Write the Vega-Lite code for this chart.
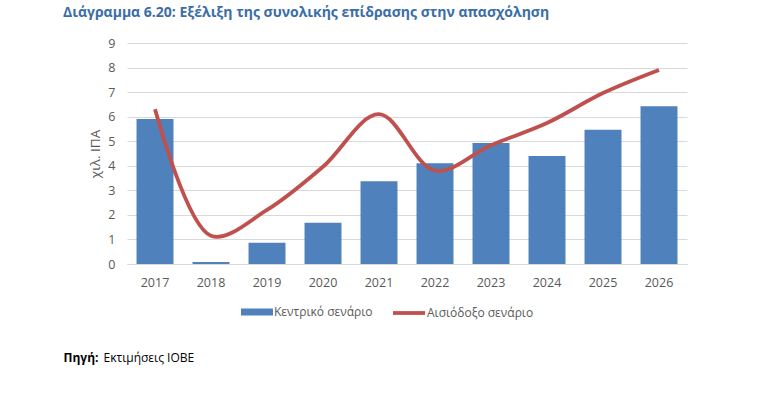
{
  "$schema": "https://vega.github.io/schema/vega-lite/v6.json",
  "autosize": "none",
  "width": 560,
  "height": 221,
  "padding": {"left": 127, "top": 43, "right": 82, "bottom": 129},
  "background": "white",
  "config": {
    "font": "Open Sans",
    "view": {"stroke": null}
  },
  "title": {
    "text": "Διάγραμμα 6.20: Εξέλιξη της συνολικής επίδρασης στην απασχόληση",
    "anchor": "start",
    "frame": "bounds",
    "offset": 17,
    "font": "Open Sans",
    "fontSize": 14,
    "fontWeight": "bold",
    "color": "#3B6DA6"
  },
  "data": {
    "values": [
      {"year": "2017", "central": 5.9, "optimistic": 6.3},
      {"year": "2018", "central": 0.08, "optimistic": 1.15},
      {"year": "2019", "central": 0.87, "optimistic": 2.2},
      {"year": "2020", "central": 1.68, "optimistic": 3.96},
      {"year": "2021", "central": 3.37, "optimistic": 6.1},
      {"year": "2022", "central": 4.1, "optimistic": 3.8},
      {"year": "2023", "central": 4.93, "optimistic": 4.84},
      {"year": "2024", "central": 4.4, "optimistic": 5.74},
      {"year": "2025", "central": 5.47, "optimistic": 6.96},
      {"year": "2026", "central": 6.42, "optimistic": 7.9}
    ]
  },
  "layer": [
    {
      "transform": [{"calculate": "'Κεντρικό σενάριο'", "as": "s1"}],
      "mark": {"type": "bar"},
      "encoding": {
        "x": {
          "field": "year", "type": "ordinal", "sort": null,
          "scale": {"paddingInner": 0.34, "paddingOuter": 0.17},
          "axis": {
            "orient": "bottom",
            "labelAngle": 0, "labelColor": "#595959", "labelFontSize": 12.5, "labelPadding": 12,
            "ticks": false, "domainColor": "#D9D9D9", "grid": false,
            "title": "Πηγή:", "titleFontSize": 12, "titleFontWeight": "bold", "titleColor": "#000000",
            "titleAnchor": null, "titleAlign": "left", "titleBaseline": "middle",
            "titleX": -64, "titleY": 93
          }
        },
        "y": {
          "field": "central", "type": "quantitative",
          "scale": {"domain": [0, 9], "nice": false},
          "axis": {
            "values": [0,1,2,3,4,5,6,7,8,9],
            "labelOverlap": false,
            "domain": false, "ticks": false, "gridColor": "#D9D9D9",
            "labelColor": "#595959", "labelFontSize": 12.5, "labelPadding": 12,
            "title": "χιλ. ΙΠΑ", "titleColor": "#595959", "titleFontSize": 13.5, "titleFontWeight": "normal",
            "titlePadding": 5
          }
        },
        "fill": {
          "field": "s1", "type": "nominal",
          "scale": {"range": ["#4F81BD"]},
          "legend": {
            "title": null, "orient": "none", "legendX": 113, "legendY": 252,
            "symbolType": "M-1,-0.22H1V0.22H-1Z", "symbolSize": 1024,
            "labelColor": "#595959", "labelFontSize": 12, "labelOffset": 0
          }
        }
      }
    },
    {
      "transform": [{"calculate": "'Αισιόδοξο σενάριο'", "as": "s2"}],
      "mark": {"type": "line", "interpolate": "catmull-rom", "strokeWidth": 3.8},
      "encoding": {
        "x": {
          "field": "year", "type": "ordinal", "sort": null,
          "axis": {
            "orient": "bottom",
            "labels": false, "ticks": false, "domain": false, "grid": false,
            "title": "Εκτιμήσεις ΙΟΒΕ", "titleFontSize": 12, "titleFontWeight": "normal", "titleColor": "#000000",
            "titleAnchor": null, "titleAlign": "left", "titleBaseline": "middle",
            "titleX": -24, "titleY": 93
          }
        },
        "y": {
          "field": "optimistic", "type": "quantitative",
          "axis": {
            "values": [0,1,2,3,4,5,6,7,8,9],
            "labelOverlap": false,
            "domain": false, "ticks": false, "gridColor": "#D9D9D9",
            "labelColor": "#595959", "labelFontSize": 12.5, "labelPadding": 12,
            "title": "χιλ. ΙΠΑ", "titleColor": "#595959", "titleFontSize": 13.5, "titleFontWeight": "normal",
            "titlePadding": 5
          }
        },
        "stroke": {
          "field": "s2", "type": "nominal",
          "scale": {"range": ["#C0504D"]},
          "legend": {
            "title": null, "orient": "none", "legendX": 264, "legendY": 252,
            "symbolType": "stroke", "symbolSize": 1024, "symbolStrokeWidth": 3.8,
            "labelColor": "#595959", "labelFontSize": 12, "labelOffset": 0
          }
        }
      }
    }
  ],
  "resolve": {"axis": {"x": "independent"}, "scale": {"fill": "independent", "stroke": "independent"}}
}
